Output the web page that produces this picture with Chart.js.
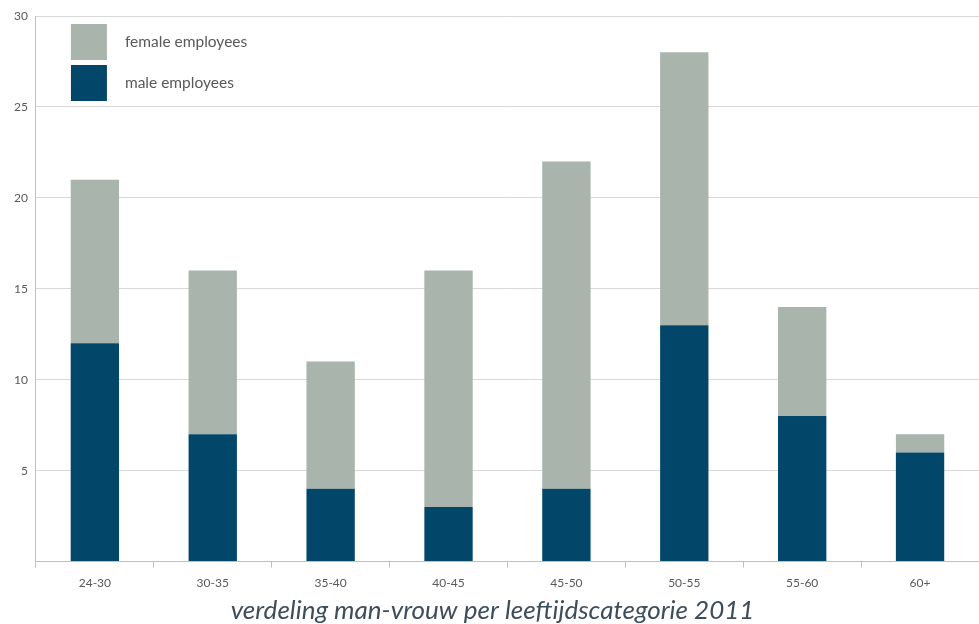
<!DOCTYPE html>
<html>
<head>
<meta charset="utf-8">
<script src="https://cdn.jsdelivr.net/npm/chart.js@4/dist/chart.umd.min.js"></script>
<style>
  html, body { margin: 0; padding: 0; background: #fff; }
  #wrap { width: 979px; height: 624px; }
</style>
</head>
<body>
<div id="wrap"><canvas id="grafiek"></canvas></div>
<script>
// leeftijdscategorieën en aantallen per geslacht
const categorieen = ['24-30', '30-35', '35-40', '40-45', '45-50', '50-55', '55-60', '60+'];
const mannen = [12, 7, 4, 3, 4, 13, 8, 6];
const vrouwen = [9, 9, 7, 13, 18, 15, 6, 1];
const yTicks = [5, 10, 15, 20, 25, 30];

const tekstKleur = '#595959';
const rasterKleur = '#d9d9d9';

// legenda binnen het grafiekvlak, linksboven (zoals in Excel)
const legendaBinnen = {
    id: 'legendaBinnen',
    afterDraw(chart) {
        const ctx = chart.ctx;
        const area = chart.chartArea;
        const sets = chart.data.datasets.slice().reverse(); // vrouwen boven
        ctx.save();
        ctx.font = '15.5px Lato, "Open Sans", sans-serif';
        ctx.textBaseline = 'middle';
        sets.forEach((ds, i) => {
            const x = area.left + 35;
            const y = area.top + 8 + i * 41;
            ctx.fillStyle = ds.backgroundColor;
            ctx.fillRect(x, y, 36, 36);
            ctx.fillStyle = tekstKleur;
            ctx.fillText(ds.label, x + 54, y + 18);
        });
        ctx.restore();
    }
};

new Chart(document.getElementById('grafiek').getContext('2d'), {
    type: 'bar',
    data: {
        labels: categorieen,
        datasets: [
            { label: 'male employees', data: mannen, backgroundColor: '#02466a' },
            { label: 'female employees', data: vrouwen, backgroundColor: '#a8b4ac' }
        ]
    },
    options: {
        responsive: true,
        maintainAspectRatio: false,
        animation: false,
        datasets: {
            bar: { barPercentage: 1, categoryPercentage: 0.41 }
        },
        layout: { padding: { top: 16, right: 0, left: 6, bottom: 0 } },
        plugins: {
            legend: { display: false },
            tooltip: { enabled: false },
            title: {
                display: true,
                position: 'bottom',
                text: 'verdeling man-vrouw per leeftijdscategorie 2011',
                color: '#3e4d5a',
                font: { family: 'Lato, "Open Sans", sans-serif', size: 26, style: 'italic', weight: 'normal', lineHeight: 1.0 },
                padding: { top: 0, bottom: 0 }
            }
        },
        scales: {
            x: {
                stacked: true,
                grid: { offset: true, drawOnChartArea: false, drawTicks: true, tickLength: 6, color: '#bfbfbf' },
                border: { color: '#bfbfbf' },
                ticks: { color: tekstKleur, font: { family: 'Lato, "Open Sans", sans-serif', size: 12 }, padding: 8 }
            },
            y: {
                stacked: true,
                min: 0,
                max: 30,
                afterBuildTicks(scale) {
                    scale.ticks = [0].concat(yTicks).map(v => ({ value: v }));
                },
                grid: { color: rasterKleur, drawTicks: false },
                border: { color: '#bfbfbf' },
                ticks: {
                    color: tekstKleur,
                    font: { family: 'Lato, "Open Sans", sans-serif', size: 12 },
                    padding: 8,
                    callback: v => (v === 0 ? '' : v)
                }
            }
        }
    },
    plugins: [legendaBinnen]
});
</script>
</body>
</html>
